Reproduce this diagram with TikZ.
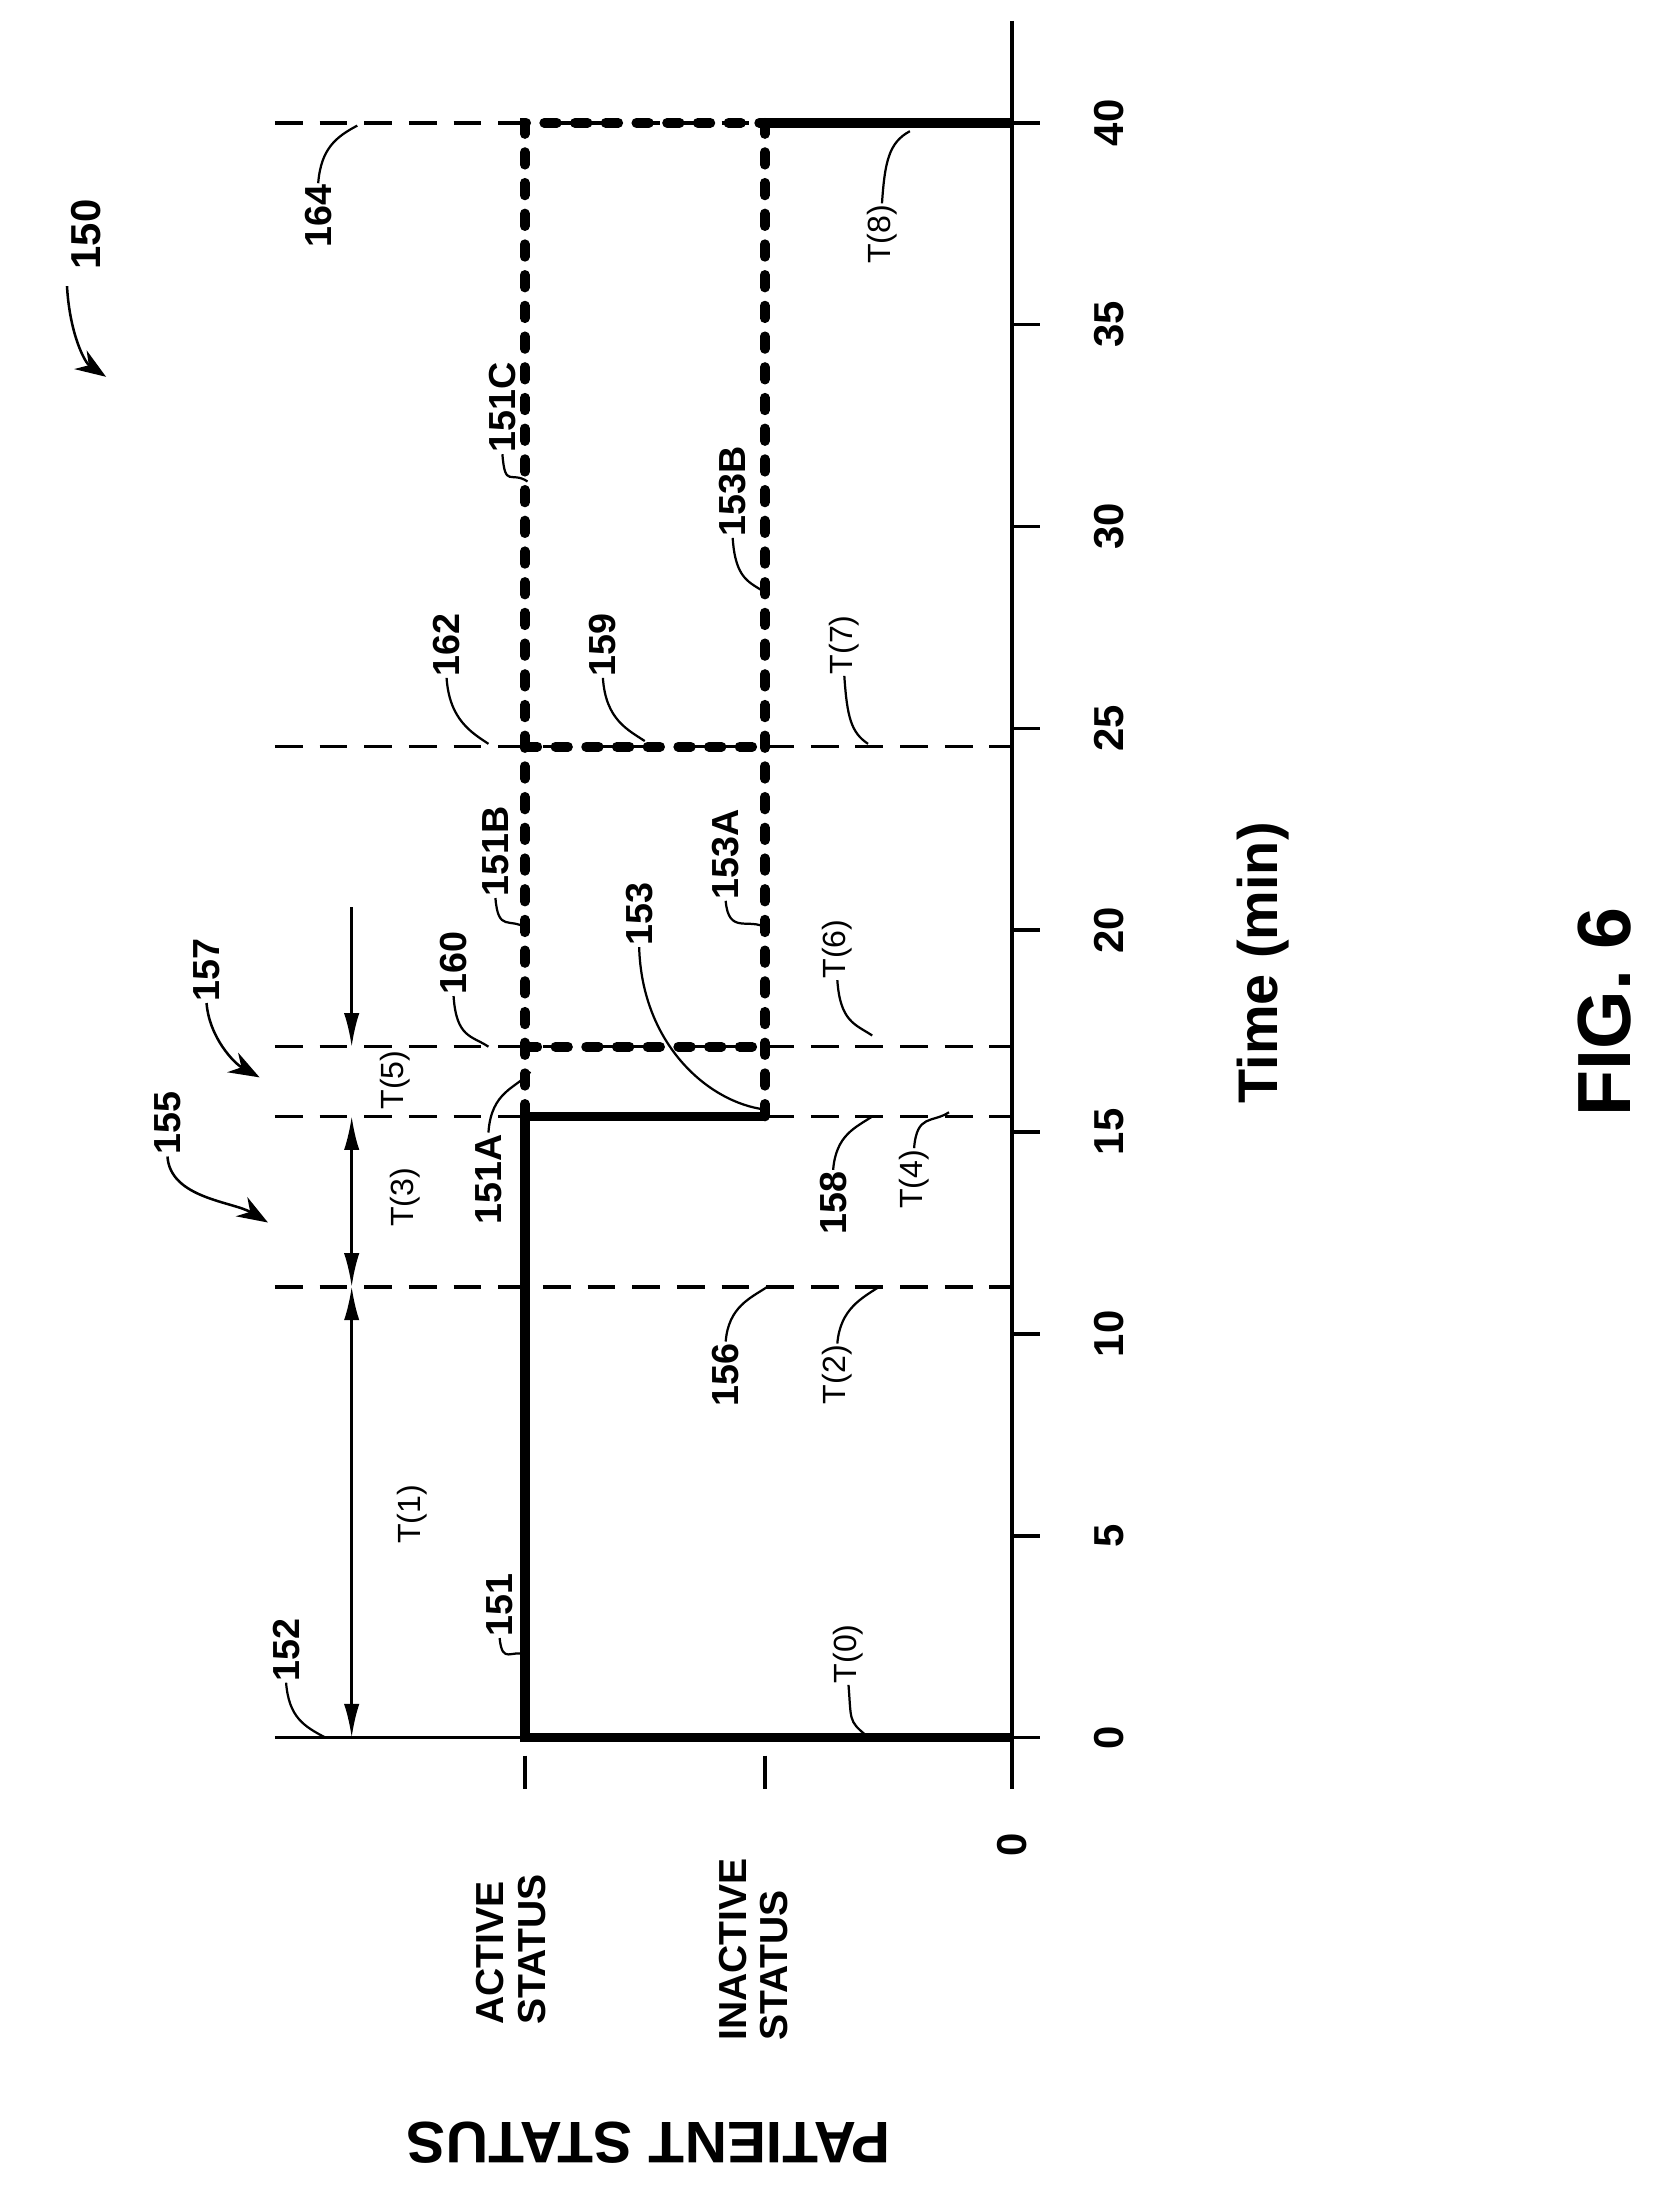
\documentclass[tikz,border=0pt]{standalone}
\usepackage{fontspec}
\setmainfont{Liberation Sans}
\usetikzlibrary{arrows.meta}
\begin{document}
\begin{tikzpicture}[x=1pt,y=-1pt,
  lbl/.style={font=\fontsize{27}{27}\bfseries\selectfont,rotate=90,inner sep=1pt},
  tl/.style={font=\fontsize{23}{23}\selectfont,rotate=90,inner sep=1pt},
  tick/.style={font=\fontsize{30}{30}\bfseries\selectfont,rotate=90},
  thin/.style={line width=1.6pt},
  lead/.style={line width=1.6pt},
  dsh/.style={line width=2.6pt,dash pattern=on 20pt off 12pt},
  thick/.style={line width=7pt},
  dots/.style={line width=7pt,line cap=round,dash pattern=on 9pt off 13pt},
  arr/.style={line width=1.8pt,-{Latex[length=24pt,width=11pt]}},
  carr/.style={line width=1.8pt,-{Stealth[length=22pt,width=16pt]}}]
\useasboundingbox (0,0) rectangle (1190,1575);
% axis
\draw[line width=2.6pt] (725,15) -- (725,1282);
\foreach \t/\y in {0/1245,5/1100.4,10/955.8,15/811.1,20/666.5,25/521.9,30/377.3,35/232.6,40/88}{
  \draw[line width=2.6pt] (725,\y) -- (745,\y);
  \node[tick] (tk\t) at (795,\y) {\t};
}
\foreach \x in {376,548,725}{\draw[line width=2.6pt] (\x,1258) -- (\x,1282);}
\node[tick] (zero) at (725,1322) {0};
% baseline
\draw[thin,line width=2pt] (197,1245) -- (376,1245);
% dashed time lines
\foreach \y in {922,800,750,535,88}{\draw[dsh] (197,\y) -- (725,\y);}
% thick solid
\draw[thick] (725,1245) -- (376,1245) -- (376,800) -- (548,800);
\draw[thick] (548,88) -- (725,88);
% dotted
\draw[dots] (376,800) -- (376,88) -- (548,88);
\draw[dots] (376,750) -- (548,750);
\draw[dots] (376,535) -- (548,535);
\draw[dots] (548,800) -- (548,88);
% dimension arrows
\coordinate (d0) at (252,1245); \coordinate (d1) at (252,922);
\coordinate (d3) at (252,800); \coordinate (d5) at (252,750); \coordinate (d6) at (252,650);
\coordinate (dm) at (252,1090); \coordinate (dn) at (252,861);
\draw[arr] (dm) -- (d0); \draw[arr] (dm) -- (d1);
\draw[arr] (dn) -- (d1); \draw[arr] (dn) -- (d3);
\draw[arr] (d6) -- (d5);
\node[tl] (T1) at (295,1085) {T(1)};
\node[tl] (T3) at (290,858) {T(3)};
\node[tl] (T5) at (283,774) {T(5)};
% axis texts
\node[font=\fontsize{40}{40}\bfseries\selectfont,rotate=90] (time) at (905,690) {Time (min)};
\node[font=\fontsize{54}{54}\bfseries\selectfont,rotate=90] (fig) at (1150,725) {FIG. 6};
\node[font=\fontsize{42}{42}\bfseries\selectfont,rotate=180] (ps) at (465,1535) {PATIENT STATUS};
\node[font=\fontsize{28}{30}\bfseries\selectfont,rotate=90,align=left] (act) at (366,1397) {ACTIVE\\STATUS};
\node[font=\fontsize{28}{30}\bfseries\selectfont,rotate=90,align=left] (inact) at (540,1397) {INACTIVE\\STATUS};
% labels with leaders
\node[lbl] (l152) at (205,1182) {152};
\draw[lead] (l152.west) .. controls +(2,25) and +(-15,-8) .. (233,1245);
\node[lbl] (l151) at (358,1150) {151};
\draw[lead] (l151.west) .. controls +(2,20) and +(-10,-5) .. (377,1186);
\node[tl] (lT0) at (608,1185) {T(0)};
\draw[lead] (lT0.west) .. controls +(2,25) and +(-12,-10) .. (620,1243);
\node[lbl] (l156) at (520,985) {156};
\draw[lead] (l156.east) .. controls +(2,-25) and +(-12,8) .. (550,922);
\node[tl] (lT2) at (600,985) {T(2)};
\draw[lead] (lT2.east) .. controls +(2,-25) and +(-12,8) .. (630,922);
\node[lbl] (l158) at (597,862) {158};
\draw[lead] (l158.east) .. controls +(2,-25) and +(-12,8) .. (625,800);
\node[tl] (lT4) at (655,845) {T(4)};
\draw[lead] (lT4.east) .. controls +(2,-25) and +(-12,8) .. (680,797);
\node[lbl] (l151A) at (350,845) {151A};
\draw[lead] (l151A.east) .. controls +(2,-30) and +(-10,12) .. (380,768);
\node[lbl] (l153) at (458,655) {153};
\draw[lead] (l153.west) .. controls +(2,70) and +(-40,-5) .. (548,795);
\node[lbl] (l160) at (325,690) {160};
\draw[lead] (l160.west) .. controls +(2,30) and +(-12,-8) .. (350,750);
\node[tl] (lT6) at (600,680) {T(6)};
\draw[lead] (lT6.west) .. controls +(2,30) and +(-12,-8) .. (625,742);
\node[lbl] (l151B) at (355,610) {151B};
\draw[lead] (l151B.west) .. controls +(2,25) and +(-12,-8) .. (377,665);
\node[lbl] (l153A) at (520,612) {153A};
\draw[lead] (l153A.west) .. controls +(2,25) and +(-12,-8) .. (549,665);
\node[lbl] (l162) at (320,462) {162};
\draw[lead] (l162.west) .. controls +(2,30) and +(-12,-8) .. (350,533);
\node[lbl] (l159) at (432,462) {159};
\draw[lead] (l159.west) .. controls +(2,30) and +(-12,-8) .. (462,531);
\node[tl] (lT7) at (605,462) {T(7)};
\draw[lead] (lT7.west) .. controls +(2,30) and +(-12,-8) .. (622,533);
\node[lbl] (l151C) at (360,292) {151C};
\draw[lead] (l151C.west) .. controls +(2,25) and +(-12,-8) .. (378,345);
\node[lbl] (l153B) at (525,352) {153B};
\draw[lead] (l153B.west) .. controls +(2,30) and +(-12,-8) .. (549,425);
\node[lbl] (l164) at (228,155) {164};
\draw[lead] (l164.east) .. controls +(2,-25) and +(-15,8) .. (256,90);
\node[tl] (lT8) at (632,168) {T(8)};
\draw[lead] (lT8.east) .. controls +(2,-30) and +(-15,8) .. (652,94);
% reference arrows
\node[lbl,font=\fontsize{30}{30}\bfseries\selectfont] (l150) at (62,168) {150};
\draw[carr] (48,205) .. controls +(2,35) and +(-15,-10) .. (76,270);
\node[lbl] (l155) at (120,805) {155};
\draw[carr] (l155.west) .. controls +(2,30) and +(-25,-15) .. (192,876);
\node[lbl] (l157) at (148,695) {157};
\draw[carr] (l157.west) .. controls +(2,25) and +(-18,-10) .. (186,772);
\end{tikzpicture}
\end{document}
